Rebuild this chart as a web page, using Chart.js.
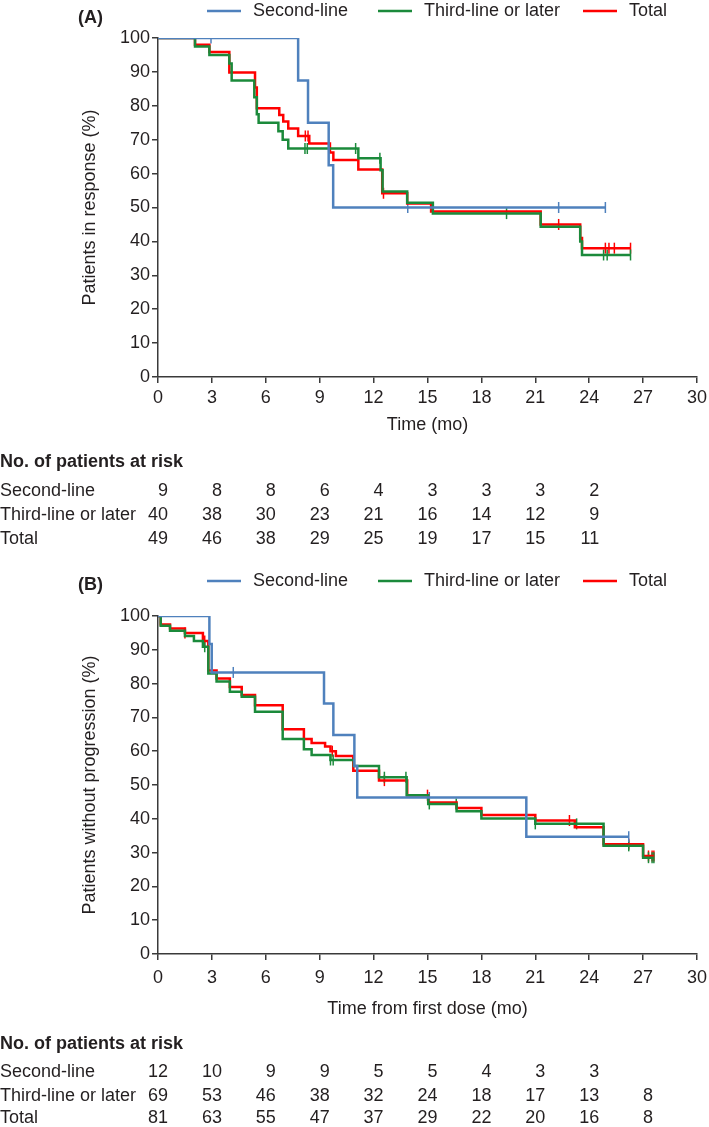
<!DOCTYPE html>
<html>
<head>
<meta charset="utf-8">
<script src="https://cdn.jsdelivr.net/npm/chart.js@4.4.0/dist/chart.umd.min.js"></script>
<style>
  body { margin: 0; background: #fff; width: 709px; height: 1127px; overflow: hidden; }
  .panel { position: absolute; left: 0; width: 709px; }
  #panelA { top: 0; height: 560px; }
  #panelB { top: 565px; height: 562px; }
</style>
</head>
<body>
<div class="panel" id="panelA"><canvas id="chartA" width="709" height="560"></canvas></div>
<div class="panel" id="panelB"><canvas id="chartB" width="709" height="562"></canvas></div>
<script>
// Series names and colours
const seriesNames = ["Second-line", "Third-line or later", "Total"];
const seriesColors = ["#4f81bd", "#1b8a3b", "#ff0000"];

// (A) Duration of response: event times (mo) and survival (%)
const respSecondT = [0, 7.8, 8.35, 9.5, 9.75, 24.9];
const respSecondS = [100, 87.5, 75, 62.5, 50, 50];
const respSecondCens = [2.95, 13.9, 22.3, 24.9];

const respThirdT = [0, 2.06, 2.86, 3.97, 4.1, 5.36, 5.5, 5.6, 6.7, 6.94, 7.25, 11.15, 12.39, 12.5, 13.87, 15.3, 21.3, 23.5, 23.6, 26.3];
const respThirdS = [100, 97.5, 95, 92.5, 87.5, 82.5, 77.5, 75, 72.5, 70, 67.4, 64.5, 61, 54.7, 51.4, 48.2, 44.3, 40, 36, 36];
const respThirdCens = [8.18, 8.31, 11.0, 12.35, 19.4, 24.8, 25.0, 26.3];

const respTotalT = [0, 2.06, 2.86, 3.97, 5.4, 5.5, 6.75, 6.97, 7.25, 7.8, 8.42, 9.57, 9.76, 11.15, 12.48, 13.87, 15.2, 21.3, 23.5, 23.6, 26.3];
const respTotalS = [100, 98, 95.9, 89.8, 85.4, 79.3, 77.3, 75.4, 73.3, 71.1, 68.9, 66.2, 64, 61.2, 54.2, 51.2, 48.8, 45, 41, 38, 38];
const respTotalCens = [8.2, 8.35, 12.55, 22.3, 24.9, 25.1, 25.4, 26.3];

// (A) at-risk table
const riskTimesA = [0, 3, 6, 9, 12, 15, 18, 21, 24];
const riskSecondA = [9, 8, 8, 6, 4, 3, 3, 3, 2];
const riskThirdA = [40, 38, 30, 23, 21, 16, 14, 12, 9];
const riskTotalA = [49, 46, 38, 29, 25, 19, 17, 15, 11];

// (B) Progression-free: event times (mo) and survival (%)
const pfsSecondT = [0, 2.86, 2.99, 9.24, 9.76, 10.93, 11.09, 20.5, 26.2];
const pfsSecondS = [100, 91.7, 83.3, 74.1, 64.8, 55.6, 46.3, 34.7, 34.7];
const pfsSecondCens = [4.19, 15.1, 26.2];

const pfsThirdT = [0, 0.15, 0.67, 1.5, 2.0, 2.5, 2.8, 3.26, 4.0, 4.66, 5.4, 6.94, 8.12, 8.55, 9.6, 10.9, 12.3, 13.84, 15.04, 16.62, 18.0, 21.0, 24.8, 27.0, 27.6];
const pfsThirdS = [100, 97.1, 95.6, 94.1, 92.6, 90.9, 83, 80.6, 77.6, 76.1, 71.7, 63.6, 60.6, 58.9, 57.4, 55.6, 52.3, 47, 44.4, 42.2, 40.1, 38.5, 32, 28.5, 28.5];
const pfsThirdCens = [2.6, 9.6, 9.75, 12.6, 13.8, 15.1, 16.6, 21.0, 23.3, 26.2, 27.3, 27.5, 27.6];

const pfsTotalT = [0, 0.15, 0.67, 1.5, 2.5, 2.8, 3.26, 4.0, 4.66, 5.4, 6.94, 8.12, 8.55, 9.3, 9.6, 9.9, 10.87, 12.3, 13.87, 15.04, 16.62, 18.0, 21.0, 23.2, 24.8, 27.0, 27.6];
const pfsTotalS = [100, 97.5, 96.3, 95, 92.6, 83.9, 81.5, 79, 76.6, 73.6, 66.5, 63.6, 62.4, 61.4, 60, 58.6, 54.2, 51.3, 47, 44.8, 43.2, 41.1, 39.5, 37.5, 32.5, 29, 29];
const pfsTotalCens = [1.5, 2.6, 9.7, 12.6, 15.0, 22.9, 26.2, 27.3, 27.5, 27.6];

// (B) at-risk table
const riskTimesB = [0, 3, 6, 9, 12, 15, 18, 21, 24, 27];
const riskSecondB = [12, 10, 9, 9, 5, 5, 4, 3, 3];
const riskThirdB = [69, 53, 46, 38, 32, 24, 18, 17, 13, 8];
const riskTotalB = [81, 63, 55, 47, 37, 29, 22, 20, 16, 8];

const FONT = '"Liberation Sans", Arial, sans-serif';
const TEXT = '#231f20';

// Value of a step curve at time t
function stepValue(T, S, t) {
    let v = S[0];
    for (let i = 0; i < T.length; i++) if (T[i] <= t) v = S[i];
    return v;
}

// Draws the panel label, legend and the at-risk table
const annotate = {
    id: 'annotate',
    afterDraw(chart, args, opts) {
        const ctx = chart.ctx;
        const xs = chart.scales.x;
        ctx.save();
        ctx.fillStyle = TEXT;
        ctx.textBaseline = 'middle';
        ctx.textAlign = 'left';
        ctx.font = 'bold 18px ' + FONT;
        ctx.fillText(opts.label, 78, opts.labelY);

        ctx.font = '18px ' + FONT;
        opts.legendX.forEach((lx, i) => {
            ctx.strokeStyle = seriesColors[i];
            ctx.lineWidth = 2.5;
            ctx.beginPath();
            ctx.moveTo(lx, opts.legendY);
            ctx.lineTo(lx + 34, opts.legendY);
            ctx.stroke();
            ctx.fillText(seriesNames[i], lx + 46, opts.legendY);
        });

        ctx.font = 'bold 18px ' + FONT;
        ctx.fillText('No. of patients at risk', 0, opts.riskTitleY);
        ctx.font = '18px ' + FONT;
        opts.riskRows.forEach((row, r) => {
            const y = opts.riskY[r];
            ctx.textAlign = 'left';
            ctx.fillText(seriesNames[r], 0, y);
            ctx.textAlign = 'right';
            row.forEach((n, i) => {
                ctx.fillText(String(n), xs.getPixelForValue(opts.riskTimes[i]) + 10, y);
            });
        });
        ctx.restore();
    }
};

function curve(T, S, i) {
    return {
        label: seriesNames[i],
        data: T.map((t, k) => ({ x: t, y: S[k] })),
        borderColor: seriesColors[i],
        backgroundColor: seriesColors[i],
        borderWidth: 2.5,
        stepped: true,
        pointRadius: 0,
        fill: false
    };
}

function censors(cens, T, S, i) {
    return {
        label: seriesNames[i] + ' censored',
        data: cens.map(t => ({ x: t, y: stepValue(T, S, t) })),
        showLine: false,
        pointStyle: 'line',
        rotation: 90,
        pointRadius: 5.5,
        borderColor: seriesColors[i],
        borderWidth: 1.5
    };
}

function makeChart(id, p) {
    const axisColor = '#3a3a3a';
    return new Chart(document.getElementById(id), {
        type: 'line',
        data: {
            datasets: [
                curve(p.curves[0][0], p.curves[0][1], 0),
                curve(p.curves[1][0], p.curves[1][1], 1),
                curve(p.curves[2][0], p.curves[2][1], 2),
                censors(p.curves[0][2], p.curves[0][0], p.curves[0][1], 0),
                censors(p.curves[1][2], p.curves[1][0], p.curves[1][1], 1),
                censors(p.curves[2][2], p.curves[2][0], p.curves[2][1], 2)
            ]
        },
        options: {
            responsive: false,
            animation: false,
            layout: { padding: { top: p.top, right: 12, bottom: p.bottom, left: 0 } },
            plugins: {
                legend: { display: false },
                tooltip: { enabled: false },
                annotate: p.annot
            },
            scales: {
                x: {
                    type: 'linear', min: 0, max: 30,
                    afterFit: s => {
                        s.height = p.xHeight;
                        s.paddingLeft = 8;
                        s.paddingRight = 8;
                    },
                    ticks: { stepSize: 3, color: TEXT, font: { family: FONT, size: 18 }, padding: p.tickPad, maxRotation: 0 },
                    grid: { drawOnChartArea: false, tickLength: 6, color: axisColor, lineWidth: 1.5 },
                    border: { color: axisColor, width: 1.5 },
                    title: { display: true, text: p.xTitle, color: TEXT, font: { family: FONT, size: 18 }, padding: { top: 0, bottom: 1 } }
                },
                y: {
                    min: 0, max: 100,
                    afterFit: s => { s.width = 158; },
                    ticks: { stepSize: 10, color: TEXT, font: { family: FONT, size: 18 }, padding: 2 },
                    grid: { drawOnChartArea: false, tickLength: 6, color: axisColor, lineWidth: 1.5 },
                    border: { color: axisColor, width: 1.5 },
                    title: { display: true, text: p.yTitle, color: TEXT, font: { family: FONT, size: 18 }, padding: { top: 79, bottom: 0 } }
                }
            }
        },
        plugins: [annotate]
    });
}

makeChart('chartA', {
    curves: [
        [respSecondT, respSecondS, respSecondCens],
        [respThirdT, respThirdS, respThirdCens],
        [respTotalT, respTotalS, respTotalCens]
    ],
    top: 38, bottom: 123, xHeight: 60, tickPad: 4,
    xTitle: 'Time (mo)', yTitle: 'Patients in response (%)',
    annot: {
        label: '(A)', labelY: 18,
        legendX: [207, 378, 583], legendY: 11,
        riskTitleY: 462, riskY: [491, 515, 539],
        riskTimes: riskTimesA,
        riskRows: [riskSecondA, riskThirdA, riskTotalA]
    }
});

makeChart('chartB', {
    curves: [
        [pfsSecondT, pfsSecondS, pfsSecondCens],
        [pfsThirdT, pfsThirdS, pfsThirdCens],
        [pfsTotalT, pfsTotalS, pfsTotalCens]
    ],
    top: 51, bottom: 106, xHeight: 67, tickPad: 7,
    xTitle: 'Time from first dose (mo)', yTitle: 'Patients without progression (%)',
    annot: {
        label: '(B)', labelY: 20,
        legendX: [207, 378, 583], legendY: 16,
        riskTitleY: 479, riskY: [507, 531, 553],
        riskTimes: riskTimesB,
        riskRows: [riskSecondB, riskThirdB, riskTotalB]
    }
});
</script>
</body>
</html>
